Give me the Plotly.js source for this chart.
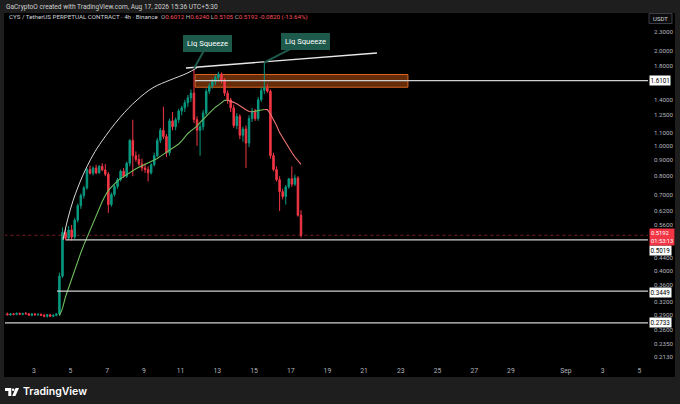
<!DOCTYPE html>
<html><head><meta charset="utf-8">
<script src="https://cdn.plot.ly/plotly-3.0.1.min.js"></script>
<style>html,body{margin:0;padding:0;background:#1e1e1e;overflow:hidden}#chart{width:680px;height:404px}</style>
</head><body><div id="chart"></div>
<script>
// ---- data (4h candles, CYS/USDT perpetual, Binance) ----
const firstCandleUTC = [2026, 7, 1, 9, 30]; // Aug 1 09:30 (chart time)
const candleHours = 4;
const open  = [0.291,0.292,0.290,0.292,0.291,0.293,0.291,0.293,0.292,0.289,0.292,0.290,0.291,0.289,0.287,0.290,0.287,0.289,
  0.292,0.385,0.530,0.508,0.540,0.512,0.580,0.645,0.695,0.735,0.840,0.818,0.850,0.820,0.860,0.838,0.812,0.650,0.700,0.742,0.780,0.830,
  0.800,0.880,1.04,0.93,0.905,0.875,0.85,0.84,0.82,0.87,0.93,1.04,1.12,1.07,0.95,1.20,1.15,1.21,1.29,1.32,
  1.37,1.42,1.47,1.21,1.12,1.15,1.27,1.49,1.55,1.60,1.65,1.69,1.62,1.47,1.40,1.32,1.16,1.24,1.08,1.13,
  1.02,1.22,1.29,1.22,1.40,1.50,1.53,1.49,0.93,0.84,0.78,0.715,0.69,0.74,0.785,0.755,0.79,0.6012];
const high  = [0.294,0.295,0.293,0.294,0.295,0.295,0.294,0.296,0.294,0.293,0.294,0.293,0.293,0.292,0.291,0.292,0.291,0.293,
  0.395,0.550,0.548,0.555,0.560,0.590,0.655,0.705,0.745,0.850,0.865,0.860,0.870,0.868,0.880,0.875,0.825,0.710,0.750,0.790,0.840,0.850,
  0.890,1.05,1.21,0.96,0.94,0.91,0.88,0.86,0.88,0.95,1.06,1.14,1.33,1.09,1.22,1.28,1.23,1.31,1.34,1.40,
  1.45,1.51,1.76,1.24,1.18,1.30,1.52,1.58,1.63,1.68,1.72,1.71,1.64,1.50,1.42,1.35,1.27,1.26,1.15,1.16,
  1.25,1.32,1.31,1.43,1.53,1.84,1.57,1.51,0.95,0.86,0.80,0.73,0.75,0.79,0.86,0.81,0.80,0.6240];
const low   = [0.288,0.289,0.288,0.289,0.289,0.290,0.289,0.291,0.288,0.287,0.289,0.288,0.288,0.285,0.284,0.286,0.285,0.287,
  0.290,0.380,0.500,0.502,0.500,0.505,0.570,0.630,0.680,0.725,0.810,0.805,0.812,0.815,0.830,0.800,0.612,0.640,0.690,0.730,0.770,0.790,
  0.790,0.860,0.80,0.89,0.86,0.83,0.82,0.77,0.81,0.86,0.92,1.02,1.05,0.92,0.93,1.12,1.12,1.18,1.25,1.28,
  1.33,1.38,1.18,1.00,0.93,1.12,1.25,1.46,1.52,1.56,1.60,1.58,1.44,1.36,1.28,1.14,1.13,1.05,1.03,0.85,
  0.99,1.19,1.20,1.20,1.38,1.46,1.47,0.91,0.83,0.77,0.62,0.675,0.65,0.73,0.74,0.745,0.595,0.5105];
const close = [0.292,0.290,0.292,0.291,0.293,0.291,0.293,0.292,0.289,0.292,0.290,0.291,0.289,0.287,0.290,0.287,0.289,0.292,
  0.385,0.530,0.508,0.540,0.512,0.580,0.645,0.695,0.735,0.840,0.818,0.850,0.820,0.860,0.838,0.812,0.650,0.700,0.742,0.780,0.830,0.800,
  0.880,1.04,0.93,0.905,0.875,0.85,0.84,0.82,0.87,0.93,1.04,1.12,1.07,0.95,1.20,1.15,1.21,1.29,1.32,1.37,
  1.42,1.47,1.21,1.12,1.15,1.27,1.49,1.55,1.60,1.65,1.69,1.62,1.47,1.40,1.32,1.16,1.24,1.08,1.13,1.02,
  1.22,1.29,1.22,1.40,1.50,1.53,1.49,0.93,0.84,0.78,0.715,0.69,0.74,0.785,0.755,0.79,0.6012,0.5192];
// moving average, from candle index maStart onwards
const maStart = 18;
const maValues = [0.288,0.304,0.331,0.354,0.377,0.403,0.430,0.457,0.484,0.511,0.542,0.572,0.604,0.636,0.665,0.695,0.721,0.739,0.757,0.773,
  0.786,0.798,0.810,0.822,0.834,0.845,0.854,0.863,0.871,0.879,0.889,0.900,0.911,0.925,0.939,0.952,0.968,0.982,0.997,1.013,
  1.037,1.067,1.094,1.115,1.134,1.154,1.186,1.217,1.241,1.270,1.299,1.326,1.347,1.372,1.394,1.396,1.388,1.374,1.360,1.338,
  1.318,1.301,1.285,1.283,1.289,1.295,1.300,1.304,1.303,1.262,1.213,1.160,1.101,1.060,1.018,0.983,0.952,0.921,0.898,0.873];
// drawn arc (curve tool) and trendline
const arcTimes  = ["2026-08-04 14:10","2026-08-04 20:45","2026-08-05 03:15","2026-08-05 09:50","2026-08-05 16:20","2026-08-06 05:25","2026-08-06 17:10","2026-08-07 16:45","2026-08-08 15:00","2026-08-09 11:55","2026-08-10 10:10","2026-08-11 08:20","2026-08-11 21:25"];
const arcPrices = [0.502,0.589,0.668,0.739,0.807,0.934,1.035,1.23,1.398,1.53,1.618,1.70,1.77];
const trendTimes  = ["2026-08-11 07:00","2026-08-21 16:50"];
const trendPrices = [1.767,1.972];
// zone & horizontal levels
const zone = {t0:"2026-08-11 19:00", t1:"2026-08-23 09:20", p0:1.535, p1:1.685};
const levels = [
  {price:1.6101, from:"2026-08-11 19:00", label:"1.6101", shift:0},
  {price:0.5019, from:"2026-08-04 18:00", label:"0.5019", shift:-11},
  {price:0.3449, from:"2026-08-04 06:20", label:"0.3449", shift:-1},
  {price:0.2733, from:"2026-08-01 00:00", label:"0.2733", shift:0}
];
const lastPrice = 0.5192, countdown = "01:53:13";
const squeezeIdx = [62, 85];
const priceTicks = [2.3,2.0,1.8,1.4,1.25,1.1,1.0,0.9,0.8,0.7,0.62,0.56,0.44,0.40,0.36,0.32,0.29,0.26,0.235,0.213];
const dayTickDates = ["2026-08-03","2026-08-05","2026-08-07","2026-08-09","2026-08-11","2026-08-13","2026-08-15","2026-08-17","2026-08-19","2026-08-21","2026-08-23","2026-08-25","2026-08-27","2026-08-29","2026-09-01","2026-09-03","2026-09-05"];
const dayTickText  = ["3","5","7","9","11","13","15","17","19","21","23","25","27","29","Sep","3","5"];

// ---- build ----
const pad = n => String(n).padStart(2,'0');
const t0 = Date.UTC(...firstCandleUTC);
const times = open.map((_, i) => { const d = new Date(t0 + i*candleHours*3600e3);
  return d.getUTCFullYear()+'-'+pad(d.getUTCMonth()+1)+'-'+pad(d.getUTCDate())+' '+pad(d.getUTCHours())+':'+pad(d.getUTCMinutes()); });

const GREEN = '#089981', RED = '#f23645';
const traces = [];
traces.push({type:'scatter', mode:'lines', x:arcTimes, y:arcPrices, line:{color:'#d8d8d8', width:1, shape:'spline', smoothing:1}, hoverinfo:'skip'});
traces.push({type:'scatter', mode:'lines', x:trendTimes, y:trendPrices, line:{color:'#e8e8e8', width:1.3}, hoverinfo:'skip'});
// MA split into rising (green) / falling (red) runs
let run = null;
for (let k = 1; k < maValues.length; k++) {
  const up = maValues[k] >= maValues[k-1];
  const i0 = maStart + k - 1, i1 = maStart + k;
  if (!run || run.up !== up) { if (run) traces.push(run.tr);
    run = {up, tr:{type:'scatter', mode:'lines', x:[times[i0]], y:[maValues[k-1]], line:{color: up ? '#6fbf5f' : '#f07575', width:1.1}, hoverinfo:'skip'}}; }
  run.tr.x.push(times[i1]); run.tr.y.push(maValues[k]);
}
if (run) traces.push(run.tr);
traces.push({type:'candlestick', x:times, open, high, low, close, whiskerwidth:0,
  increasing:{line:{color:GREEN, width:1}, fillcolor:GREEN},
  decreasing:{line:{color:RED, width:1}, fillcolor:RED}, hoverinfo:'skip'});

// layout geometry (pixels -> paper)
const W=680, H=404, L=5, R=648, T=26, B=365;
const px = x => (x - L)/(R - L), py = y => (B - y)/(B - T);

const shapes = [
  {type:'rect', xref:'paper', yref:'paper', x0:px(4), x1:px(675), y0:py(377), y1:py(13), fillcolor:'#000', line:{width:0}, layer:'below'},
  {type:'rect', xref:'x', yref:'y', x0:zone.t0, x1:zone.t1, y0:zone.p0, y1:zone.p1, fillcolor:'rgba(165,70,15,0.62)', line:{color:'rgba(225,105,35,0.95)', width:1}, layer:'below'},
  {type:'line', xref:'x', yref:'y', x0:times[0], x1:'2026-09-30', y0:lastPrice, y1:lastPrice, line:{color:'rgba(242,54,69,0.5)', width:1, dash:'dot'}}
];
levels.forEach(l => shapes.push({type:'line', xref:'x', yref:'y', x0:l.from, x1:'2026-09-30', y0:l.price, y1:l.price, line:{color:'#d0d0d0', width:1.2}}));
// USDT box
shapes.push({type:'rect', xref:'paper', yref:'paper', x0:px(649), x1:px(672), y0:py(23.5), y1:py(13.5), fillcolor:'#0c0c0c', line:{color:'#3a3d45', width:1}});
// TradingView logo
const P = (x,y) => px(x).toFixed(5)+','+py(y).toFixed(5);
shapes.push({type:'path', xref:'paper', yref:'paper', path:'M'+P(5,388)+' L'+P(11.3,388)+' L'+P(11.3,396)+' L'+P(8.3,396)+' L'+P(8.3,391)+' L'+P(5,391)+' Z', fillcolor:'#fff', line:{width:0}});
shapes.push({type:'circle', xref:'paper', yref:'paper', x0:px(11.9), x1:px(14.5), y0:py(391), y1:py(388.4), fillcolor:'#fff', line:{width:0}});
shapes.push({type:'path', xref:'paper', yref:'paper', path:'M'+P(15.6,388)+' L'+P(19,388)+' L'+P(15.4,396)+' L'+P(12.2,396)+' Z', fillcolor:'#fff', line:{width:0}});

const FONT = 'Roboto, Arial, sans-serif';
const ann = [];
ann.push({xref:'paper', yref:'paper', x:px(4), y:py(7), xanchor:'left', yanchor:'middle', showarrow:false,
  text:'GaCryptoO created with TradingView.com, Aug 17, 2026 15:36 UTC+5:30', font:{family:FONT, size:6.6, color:'#cfcfcf'}});
const g = '#b2b5be', r = '#f7525f';
const lastO = open[open.length-1], lastC = close[close.length-1];
ann.push({xref:'paper', yref:'paper', x:px(7), y:py(17.5), xanchor:'left', yanchor:'middle', showarrow:false,
  text:'<span style="color:#d1d4dc">CYS / TetherUS PERPETUAL CONTRACT · 4h · Binance</span>  '+
    '<span style="color:'+g+'">O</span><span style="color:'+r+'">'+lastO.toFixed(4)+'</span> '+
    '<span style="color:'+g+'">H</span><span style="color:'+r+'">'+high[high.length-1].toFixed(4)+'</span> '+
    '<span style="color:'+g+'">L</span><span style="color:'+r+'">'+low[low.length-1].toFixed(4)+'</span> '+
    '<span style="color:'+g+'">C</span><span style="color:'+r+'">'+lastC.toFixed(4)+'</span> '+
    '<span style="color:'+r+'">'+(lastC-lastO).toFixed(4)+' ('+(((lastC-lastO)/lastO)*100).toFixed(2)+'%)</span>',
  font:{family:FONT, size:6.2, color:'#d1d4dc'}});
ann.push({xref:'paper', yref:'paper', x:px(660.5), y:py(18.5), xanchor:'center', yanchor:'middle', showarrow:false, text:'USDT', font:{family:FONT, size:6, color:'#d1d4dc'}});
ann.push({xref:'paper', yref:'paper', x:px(21), y:py(392), xanchor:'left', yanchor:'middle', showarrow:false, text:'TradingView', font:{family:'Inter, Roboto, sans-serif', size:10.5, color:'#ffffff', weight:600}});
// price-scale boxed labels
levels.forEach(l => ann.push({xref:'paper', yref:'y', x:1, y:Math.log10(l.price), xanchor:'left', yanchor:'middle', xshift:1, yshift:l.shift, showarrow:false,
  text:l.label, bgcolor:'#ffffff', borderpad:0.5, font:{family:FONT, size:6.3, color:'#000'}}));
ann.push({xref:'paper', yref:'y', x:1, y:Math.log10(lastPrice), xanchor:'left', yanchor:'middle', xshift:1, yshift:-2, showarrow:false,
  text:lastPrice.toFixed(4)+'<br>'+countdown, bgcolor:RED, borderpad:1, align:'left', font:{family:FONT, size:5.8, color:'#fff'}});
// Liq Squeeze callouts
const offs = [[14,-25],[41,-21]];
squeezeIdx.forEach((idx, k) => ann.push({xref:'x', yref:'y', x:times[idx], y:Math.log10(high[idx]), ax:offs[k][0], ay:offs[k][1],
  showarrow:true, arrowhead:0, arrowwidth:2, arrowcolor:'#1d5a4c', text:'Liq Squeeze', bgcolor:'#1d5a4c', bordercolor:'#1d5a4c', borderpad:3,
  font:{family:FONT, size:7.6, color:'#ffffff'}}));

const layout = {
  width:W, height:H, margin:{l:L, r:W-R, t:T, b:H-B}, paper_bgcolor:'#1e1e1e', plot_bgcolor:'#000000',
  showlegend:false, font:{family:FONT, color:'#b2b5be'},
  xaxis:{type:'date', range:['2026-08-01 10:20','2026-09-05 11:20'], rangeslider:{visible:false}, showgrid:false, zeroline:false, showline:false,
    tickvals:dayTickDates, ticktext:dayTickText, tickfont:{size:6.8, color:'#b2b5be'}, ticks:'', fixedrange:true},
  yaxis:{type:'log', side:'right', range:[-0.6971, 0.3808], showgrid:false, zeroline:false, showline:false,
    tickvals:priceTicks, ticktext:priceTicks.map(v => v.toFixed(4)), tickfont:{size:6.2, color:'#b2b5be'}, ticks:'', ticklabelstandoff:5, fixedrange:true},
  shapes, annotations:ann
};
Plotly.newPlot('chart', traces, layout, {staticPlot:true, displayModeBar:false});
</script></body></html>
